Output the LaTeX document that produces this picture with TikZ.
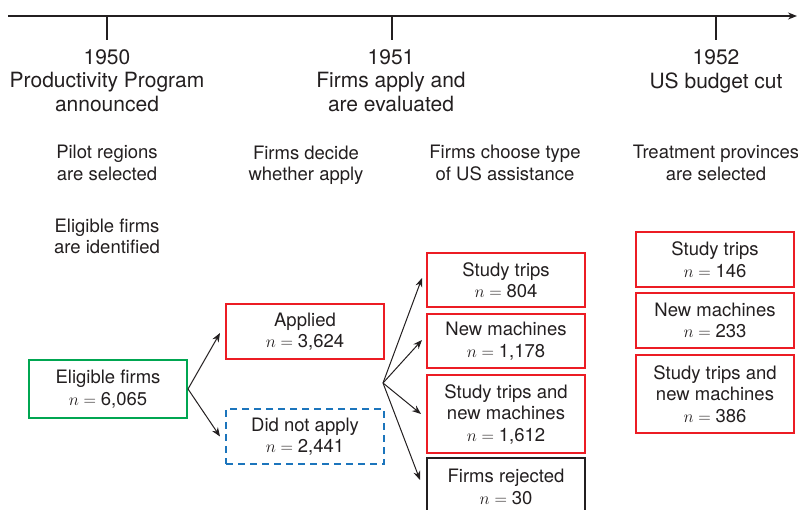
\documentclass[tikz,border=0pt]{standalone}
\usepackage{fontspec}
\setmainfont{TeX Gyre Heros}
\usetikzlibrary{arrows.meta,calc}
\definecolor{ink}{HTML}{231F20}
\definecolor{bred}{HTML}{EC1C24}
\definecolor{bgreen}{HTML}{00A651}
\definecolor{bblue}{HTML}{1C75BC}
\tikzset{
  big/.style={font=\fontsize{21}{23.5}\selectfont, text=ink, align=center, inner sep=0pt},
  small/.style={font=\fontsize{18.5}{21.5}\selectfont, text=ink, align=center, inner sep=0pt},
  box/.style={small, draw, line width=2pt, minimum width=158pt},
  redbox/.style={box, draw=bred},
  arr/.style={draw=ink, line width=1pt, -{Stealth[length=9pt,width=7pt]}},
}
\newcommand{\nn}[1]{$n={}$#1}
\begin{document}
\begin{tikzpicture}[x=1pt,y=-1pt]
\useasboundingbox (0,0) rectangle (798,510);
% timeline
\coordinate (tl0) at (8,16);
\coordinate (tl1) at (797,16);
\draw[line width=1.2pt, ink, -{Stealth[length=9pt,width=7pt]}] (tl0) -- (tl1);
\coordinate (t1) at (107,16); \coordinate (t1b) at (107,40);
\coordinate (t2) at (392,16); \coordinate (t2b) at (392,40);
\coordinate (t3) at (716,16); \coordinate (t3b) at (716,40);
\draw[line width=1.2pt, ink] (t1) -- (t1b) (t2) -- (t2b) (t3) -- (t3b);
\node[big] (y1) at (107,80.5) {1950\\Productivity Program\\announced};
\node[big] (y2) at (391,80.5) {1951\\Firms apply and\\are evaluated};
\node[big] (y3) at (716,71.5) {1952\\US budget cut};
% stage descriptions
\node[small] (d1) at (107,163) {Pilot regions\\are selected};
\node[small] (d1b) at (107,236.5) {Eligible firms\\are identified};
\node[small] (d2) at (306,165.5) {Firms decide\\whether apply};
\node[small] (d3) at (505,163) {Firms choose type\\of US assistance};
\node[small] (d4) at (716,163) {Treatment provinces\\are selected};
% boxes
\node[box, draw=bgreen, minimum height=58pt] (elig) at (108,389) {Eligible firms\\\nn{6,065}};
\node[redbox, minimum height=55pt] (app) at (305,331.5) {Applied\\\nn{3,624}};
\node[box, draw=bblue, dashed, dash pattern=on 7pt off 5pt, minimum height=55pt] (dna) at (305,436.5) {Did not apply\\\nn{2,441}};
\node[redbox, minimum height=54pt] (st) at (506,280) {Study trips\\\nn{804}};
\node[redbox, minimum height=54pt] (nm) at (506,341) {New machines\\\nn{1,178}};
\node[redbox, minimum height=78pt] (stnm) at (506,414) {Study trips and\\new machines\\\nn{1,612}};
\node[box, draw=ink, minimum height=58pt] (rej) at (506,487) {Firms rejected\\\nn{30}};
\node[redbox, minimum height=55pt] (rst) at (715,259.5) {Study trips\\\nn{146}};
\node[redbox, minimum height=55pt] (rnm) at (715,320.5) {New machines\\\nn{233}};
\node[redbox, minimum height=78pt] (rstnm) at (715,394) {Study trips and\\new machines\\\nn{386}};
% arrows
\draw[arr] (elig.east) -- ([xshift=-5pt,yshift=-1.5pt]app.west);
\draw[arr] (elig.east) -- ([xshift=-5pt]dna.west);
\coordinate (fork) at (383,383);
\draw[arr] (fork) -- ([xshift=-4pt,yshift=2pt]st.west);
\draw[arr] (fork) -- ([xshift=-4pt,yshift=1pt]nm.west);
\draw[arr] (fork) -- ([xshift=-5pt]stnm.west);
\draw[arr] (fork) -- ($(rej.north west)+(-6,23)$);
\end{tikzpicture}
\end{document}
